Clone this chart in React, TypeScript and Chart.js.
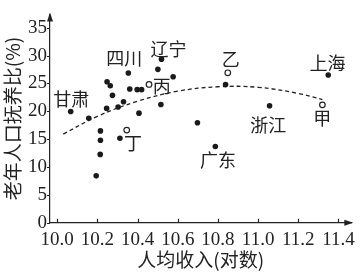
import React, { useEffect, useRef } from "react";
import { Chart, registerables } from "chart.js";

Chart.register(...registerables);

// Filled points: provinces / sample regions (per-capita income log, elderly dependency ratio %)
const pointX = [10.067, 10.157, 10.248, 10.264, 10.275, 10.246, 10.303, 10.33, 10.354, 10.361, 10.398, 10.42, 10.407, 10.501, 10.519, 10.577, 10.516, 10.215, 10.215, 10.214, 10.194, 10.312, 10.838, 11.349, 11.057, 10.698, 10.787];
const pointY = [19.95, 18.76, 25.3, 24.57, 22.86, 20.52, 20.77, 21.71, 26.88, 24.0, 23.88, 23.88, 19.66, 27.53, 29.36, 26.19, 21.23, 16.48, 14.81, 12.26, 8.41, 15.17, 24.79, 26.5, 20.98, 17.95, 13.68];

// Open circles: 甲 乙 丙 丁
const openNames = ["甲", "乙", "丙", "丁"];
const openX = [11.32, 10.849, 10.457, 10.346];
const openY = [21.15, 26.91, 24.82, 16.62];

// Dashed trend curve
const trendX = [10.03, 10.2, 10.4, 10.6, 10.8, 11.0, 11.2, 11.32];
const trendY = [15.9, 19.1, 21.8, 23.6, 24.4, 24.3, 23.2, 22.1];

// Text labels (value-space anchors)
const labelText = ["甘肃", "四川", "辽宁", "丙", "丁", "乙", "上海", "浙江", "甲", "广东"];
const labelX = [10.07, 10.333, 10.554, 10.52, 10.377, 10.864, 11.346, 11.051, 11.319, 10.8];
const labelY = [22.09, 29.53, 31.07, 24.48, 14.31, 29.36, 28.67, 17.56, 18.76, 11.15];

const xTicks = [10.0, 10.2, 10.4, 10.6, 10.8, 11.0, 11.2, 11.4];
const xTickLabels = ["10.0", "10.2", "10.4", "10.6", "10.8", "11.0", "11.2", "11.4"];
const yTicks = [0, 5, 10, 15, 20, 25, 30, 35];
const yTickLabels = ["0", "5", "10", "15", "20", "25", "30", "35"];

const INK = "#222222";
const CJK = "'Noto Sans CJK SC', sans-serif";
const SERIF = "'Liberation Serif', 'DejaVu Serif', serif";

const decorPlugin = {
  id: "decor",
  afterDatasetsDraw(chart: any) {
    const ctx = chart.ctx;
    const xs = chart.scales.x;
    const ys = chart.scales.y;
    const area = chart.chartArea;
    ctx.save();
    // labels
    ctx.fillStyle = INK;
    ctx.font = `18px ${CJK}`;
    ctx.textAlign = "center";
    ctx.textBaseline = "middle";
    labelText.forEach((t, i) => {
      ctx.fillText(t, xs.getPixelForValue(labelX[i]), ys.getPixelForValue(labelY[i]));
    });
    // tick marks
    ctx.strokeStyle = INK;
    ctx.lineWidth = 1.2;
    ctx.beginPath();
    xTicks.forEach((v) => {
      const px = Math.round(xs.getPixelForValue(v)) + 0.5;
      ctx.moveTo(px, area.bottom);
      ctx.lineTo(px, area.bottom - 4);
    });
    yTicks.forEach((v) => {
      const py = Math.round(ys.getPixelForValue(v)) + 0.5;
      ctx.moveTo(area.left, py);
      ctx.lineTo(area.left - 3, py);
    });
    ctx.stroke();
    // arrows
    ctx.fillStyle = INK;
    ctx.beginPath();
    ctx.moveTo(area.left, area.top - 2);
    ctx.lineTo(area.left - 3, area.top + 7);
    ctx.lineTo(area.left + 3, area.top + 7);
    ctx.closePath();
    ctx.fill();
    ctx.beginPath();
    ctx.moveTo(area.right + 2, area.bottom);
    ctx.lineTo(area.right - 7, area.bottom - 3);
    ctx.lineTo(area.right - 7, area.bottom + 3);
    ctx.closePath();
    ctx.fill();
    ctx.restore();
  },
};

export default function App() {
  const ref = useRef<HTMLCanvasElement>(null);
  useEffect(() => {
    if (!ref.current) return;
    const chart = new Chart(ref.current, {
      type: "scatter",
      data: {
        datasets: [
          {
            type: "line",
            data: trendX.map((x, i) => ({ x, y: trendY[i] })),
            borderColor: INK,
            borderWidth: 1.3,
            borderDash: [4, 3],
            pointRadius: 0,
            tension: 0.4,
            fill: false,
            showLine: true,
            order: 3,
          } as any,
          {
            data: pointX.map((x, i) => ({ x, y: pointY[i] })),
            pointRadius: 2.8,
            backgroundColor: "#1a1a1a",
            borderWidth: 0,
            order: 1,
          },
          {
            label: openNames.join(""),
            data: openX.map((x, i) => ({ x, y: openY[i] })),
            pointRadius: 2.8,
            backgroundColor: "#ffffff",
            borderColor: INK,
            borderWidth: 1.2,
            order: 0,
          },
        ],
      },
      options: {
        animation: false,
        responsive: false,
        devicePixelRatio: 1,
        layout: { padding: { top: 4, right: 6, left: 0, bottom: 0 }, autoPadding: false } as any,
        plugins: { legend: { display: false }, tooltip: { enabled: false } },
        scales: {
          x: {
            type: "linear",
            min: 9.964,
            max: 11.464,
            afterBuildTicks: (s: any) => {
              s.ticks = xTicks.map((value) => ({ value }));
            },
            afterFit: (s: any) => {
              s.height = 49.3;
            },
            grid: { display: false, drawTicks: false },
            border: { display: true, color: INK, width: 1.2 },
            ticks: {
              autoSkip: false,
              maxRotation: 0,
              padding: 6,
              color: INK,
              font: { family: SERIF, size: 19 },
              callback: (_v: any, i: number) => xTickLabels[i],
            },
            title: {
              display: true,
              text: "人均收入(对数)",
              color: INK,
              font: { family: CJK, size: 19 },
              padding: { top: 0, bottom: 1 },
            },
          },
          y: {
            type: "linear",
            min: 0,
            max: 37.39,
            afterBuildTicks: (s: any) => {
              s.ticks = yTicks.map((value) => ({ value }));
            },
            afterFit: (s: any) => {
              s.width = 50;
            },
            grid: { display: false, drawTicks: false },
            border: { display: true, color: INK, width: 1.2 },
            ticks: {
              autoSkip: false,
              padding: 3,
              color: INK,
              font: { family: SERIF, size: 19 },
              callback: (_v: any, i: number) => yTickLabels[i],
            },
            title: {
              display: true,
              text: "老年人口抚养比(%)",
              color: INK,
              font: { family: CJK, size: 19 },
              padding: { top: 1, bottom: 0 },
            },
          },
        },
      },
      plugins: [decorPlugin],
    });
    return () => chart.destroy();
  }, []);
  return (
    <div style={{ position: "fixed", left: 0, top: 0, width: 361, height: 272, background: "#fff" }}>
      <canvas ref={ref} width={361} height={272} />
    </div>
  );
}
